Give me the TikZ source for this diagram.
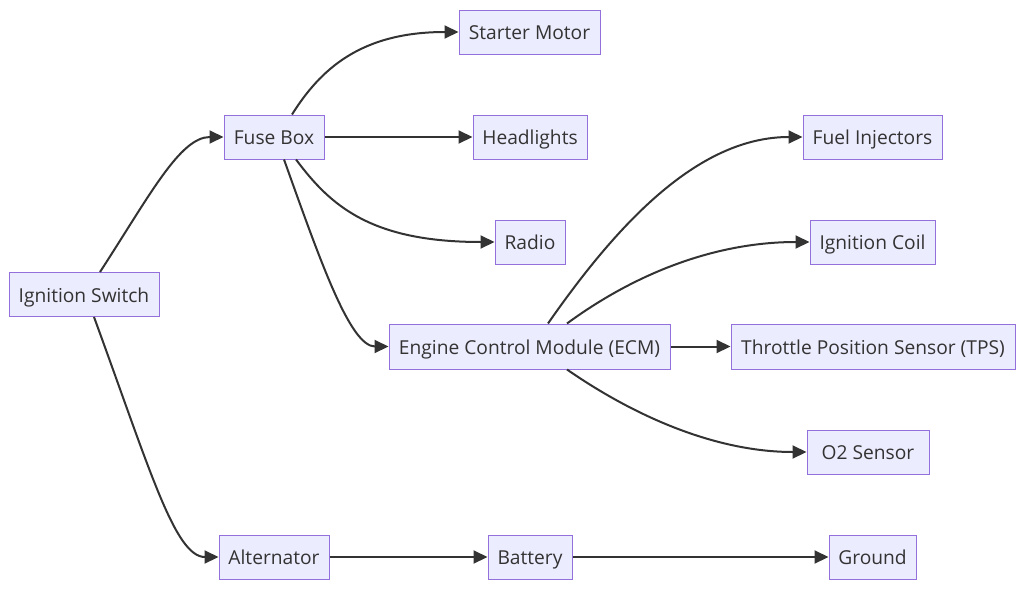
\documentclass[tikz,border=0pt]{standalone}
\usepackage{fontspec}
\setmainfont{Open Sans}
\usetikzlibrary{arrows.meta}
\definecolor{nodefill}{HTML}{ECECFF}
\definecolor{nodeline}{HTML}{9370DB}
\definecolor{ink}{HTML}{333333}
\tikzset{
  box/.style={draw=nodeline, fill=nodefill, line width=1pt, text=ink, inner sep=0pt,
    minimum height=44pt, text height=15pt, text depth=0pt, font=\fontsize{19.2}{22}\selectfont},
  link/.style={draw=ink, line width=2pt, -{Triangle[length=14pt,width=13pt]}},
}
\begin{document}
\begin{tikzpicture}[x=1pt,y=-1pt]
\useasboundingbox (0,0) rectangle (1024,589);
\node[box, minimum width=150pt] (ign) at (84,294.5) {Ignition Switch};
\node[box, minimum width=100pt] (fuse) at (274,137) {Fuse Box};
\node[box, minimum width=141pt] (start) at (529.5,32) {Starter Motor};
\node[box, minimum width=114pt] (head) at (530,137) {Headlights};
\node[box, minimum width=70pt] (radio) at (530,242) {Radio};
\node[box, minimum width=281pt, minimum height=45pt] (ecm) at (529.5,346.5) {Engine Control Module (ECM)};
\node[box, minimum width=139pt] (fuel) at (872.5,137) {Fuel Injectors};
\node[box, minimum width=125pt] (coil) at (872.5,242) {Ignition Coil};
\node[box, minimum width=284pt, minimum height=45pt] (tps) at (873,346.5) {Throttle Position Sensor (TPS)};
\node[box, minimum width=122pt] (o2) at (868,452) {O2 Sensor};
\node[box, minimum width=110pt] (alt) at (274,557) {Alternator};
\node[box, minimum width=84pt] (bat) at (530,557) {Battery};
\node[box, minimum width=87pt] (gnd) at (872.5,557) {Ground};

\draw[link] ([xshift=16pt]ign.north) .. controls (150,195) and (180,137) .. (fuse.west);
\draw[link] ([xshift=10pt]ign.south) .. controls (150,470) and (175,557) .. (alt.west);
\draw[link] ([xshift=18pt]fuse.north) .. controls (320,70) and (360,32) .. (start.west);
\draw[link] (fuse.east) -- (head.west);
\draw[link] ([xshift=22pt]fuse.south) .. controls (330,205) and (370,242) .. (radio.west);
\draw[link] ([xshift=10pt]fuse.south) .. controls (320,260) and (350,346.5) .. (ecm.west);
\draw[link] ([xshift=18.5pt]ecm.north) .. controls (620,220) and (700,137) .. (fuel.west);
\draw[link] ([xshift=37.5pt]ecm.north) .. controls (640,270) and (720,242) .. (coil.west);
\draw[link] (ecm.east) -- (tps.west);
\draw[link] ([xshift=37.5pt]ecm.south) .. controls (640,420) and (720,452) .. (o2.west);
\draw[link] (alt.east) -- (bat.west);
\draw[link] (bat.east) -- (gnd.west);
\end{tikzpicture}
\end{document}
